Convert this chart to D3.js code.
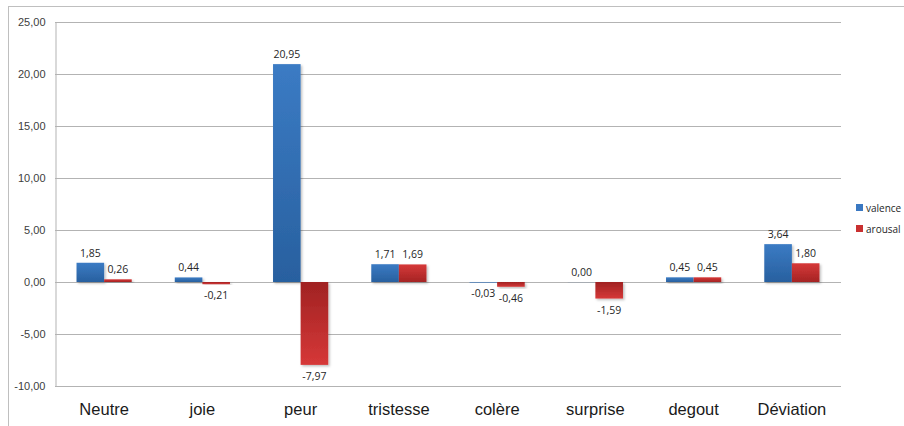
<!DOCTYPE html>
<html>
<head>
<meta charset="utf-8">
<script src="https://cdn.jsdelivr.net/npm/d3@7"></script>
<style>
  html, body { margin: 0; padding: 0; background: #fff; }
  svg { display: block; font-family: "Open Sans", Lato, "DejaVu Sans", sans-serif; }
</style>
</head>
<body>
<svg id="chart" width="904" height="426"></svg>
<script>
// Emotion categories and the two measured series
const categories = ["Neutre", "joie", "peur", "tristesse", "colère", "surprise", "degout", "Déviation"];
const valence = [1.85, 0.44, 20.95, 1.71, -0.03, 0.00, 0.45, 3.64];
const arousal = [0.26, -0.21, -7.97, 1.69, -0.46, -1.59, 0.45, 1.80];
const seriesNames = ["valence", "arousal"];
const yTicks = [-10, -5, 0, 5, 10, 15, 20, 25];

const svg = d3.select("#chart");
const W = 904, H = 426;
const plot = { left: 55, right: 841, top: 22, bottom: 386 };

// outer chart frame
svg.append("rect")
  .attr("x", 8.5).attr("y", 6.5)
  .attr("width", W + 10).attr("height", H + 10)
  .attr("fill", "none").attr("stroke", "#bfbfbf").attr("stroke-width", 1);

const x = d3.scaleBand().domain(categories).range([plot.left, plot.right]).paddingInner(0).paddingOuter(0);
const y = d3.scaleLinear().domain([-10, 25]).range([plot.bottom, plot.top]);

// French number style: comma decimal, plain hyphen for negatives
const locale = d3.formatLocale({ decimal: ",", thousands: " ", grouping: [3], currency: ["", " €"], minus: "-" });
const fmt = v => locale.format(".2f")(v).replace(/^-0,00$/, "0,00");

// gradients: lighter at the value end of the bar, darker at the baseline
const defs = svg.append("defs");
function grad(id, light, dark, flip) {
  const g = defs.append("linearGradient").attr("id", id)
    .attr("x1", 0).attr("y1", 0).attr("x2", 0).attr("y2", 1);
  g.append("stop").attr("offset", "0%").attr("stop-color", flip ? dark : light);
  g.append("stop").attr("offset", "100%").attr("stop-color", flip ? light : dark);
}
grad("bluePos", "#3b7bc4", "#28609f", false);
grad("blueNeg", "#3b7bc4", "#28609f", true);
grad("redPos", "#d63838", "#a52424", false);
grad("redNeg", "#d63838", "#a02222", true);

const shadow = defs.append("filter").attr("id", "shadow")
  .attr("x", "-20%").attr("y", "-20%").attr("width", "150%").attr("height", "150%");
shadow.append("feDropShadow").attr("dx", 1.5).attr("dy", 1.5).attr("stdDeviation", 1.2)
  .attr("flood-color", "#000").attr("flood-opacity", 0.25);

// gridlines
svg.append("g").selectAll("line").data(yTicks).join("line")
  .attr("x1", plot.left).attr("x2", plot.right)
  .attr("y1", d => Math.round(y(d)) + 0.5).attr("y2", d => Math.round(y(d)) + 0.5)
  .attr("stroke", "#b3b3b3").attr("stroke-width", 1);

// value axis
const yAxis = d3.axisLeft(y).tickValues(yTicks).tickSize(0).tickPadding(10).tickFormat(fmt);
const ya = svg.append("g").attr("transform", `translate(${plot.left + 0.5},0)`).call(yAxis);
ya.select(".domain").attr("stroke", "#b3b3b3");
ya.selectAll("text").attr("font-size", 11).attr("fill", "#404040");

// category axis labels
const xAxis = d3.axisBottom(x).tickSize(0).tickPadding(17);
const xa = svg.append("g").attr("transform", `translate(0,${plot.bottom})`).call(xAxis);
xa.select(".domain").remove();
xa.selectAll("text").attr("font-size", 16.5).attr("fill", "#1a1a1a");

// grouped bars
const inner = d3.scaleBand().domain(seriesNames).range([0, x.bandwidth()]).paddingOuter(0.78).paddingInner(0);
const rows = [];
categories.forEach((c, i) => {
  rows.push({ cat: c, s: "valence", v: valence[i] });
  rows.push({ cat: c, s: "arousal", v: arousal[i] });
});

const bars = svg.append("g");
bars.selectAll("rect").data(rows).join("rect")
  .attr("x", d => x(d.cat) + inner(d.s))
  .attr("width", inner.bandwidth())
  .attr("y", d => Math.min(y(d.v), y(0)))
  .attr("height", d => Math.max(Math.abs(y(d.v) - y(0)), 0.6))
  .attr("fill", d => {
    const base = d.s === "valence" ? "blue" : "red";
    return `url(#${base}${d.v >= 0 ? "Pos" : "Neg"})`;
  })
  .attr("opacity", d => d.v === 0 ? 0.15 : 1)
  .attr("filter", "url(#shadow)");

// value labels
svg.append("g").selectAll("text").data(rows).join("text")
  .attr("x", d => x(d.cat) + inner(d.s) + inner.bandwidth() / 2)
  .attr("y", d => d.v >= 0 ? y(d.v) - 6 : y(d.v) + 15)
  .attr("text-anchor", "middle")
  .attr("font-size", 10.5)
  .attr("fill", "#262626")
  .text(d => fmt(d.v));

// legend
const colors = { valence: "#3a78c2", arousal: "#c93030" };
const lg = svg.append("g").attr("transform", "translate(856,204)");
seriesNames.forEach((s, i) => {
  const g = lg.append("g").attr("transform", `translate(0,${i * 21})`);
  g.append("rect").attr("x", 0).attr("y", 0).attr("width", 7).attr("height", 7).attr("fill", colors[s]);
  g.append("text").attr("x", 10).attr("y", 7.5).attr("font-size", 10).attr("fill", "#262626").text(s);
});
</script>
</body>
</html>
